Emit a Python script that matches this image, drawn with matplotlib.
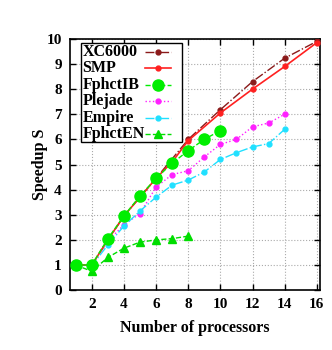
import matplotlib
matplotlib.use("Agg")
import matplotlib.pyplot as plt
from matplotlib.patches import Rectangle

plt.rcParams['font.family'] = ['Liberation Serif', 'DejaVu Serif']
plt.rcParams['font.weight'] = 'bold'

# данные
xc_x = [1, 2, 4, 6, 8, 10, 12, 14, 16]
xc_y = [1.0, 1.0, 2.95, 4.45, 6.0, 7.18, 8.3, 9.23, 9.9]

smp_x = [1, 2, 3, 4, 5, 6, 7, 8, 10, 12, 14, 16]
smp_y = [1.0, 1.0, 2.0, 2.95, 3.7, 4.45, 5.1, 5.95, 7.05, 8.0, 8.9, 9.85]

ib_x = [1, 2, 3, 4, 5, 6, 7, 8, 9, 10]
ib_y = [1.0, 1.0, 2.05, 2.95, 3.75, 4.45, 5.05, 5.55, 6.0, 6.35]

plej_x = [1, 2, 3, 4, 5, 6, 7, 8, 9, 10, 11, 12, 13, 14]
plej_y = [1.0, 1.0, 1.95, 2.6, 3.05, 4.1, 4.6, 4.75, 5.3, 5.8, 6.0, 6.5, 6.65, 7.0]

emp_x = [1, 2, 3, 4, 5, 6, 7, 8, 9, 10, 11, 12, 13, 14]
emp_y = [1.0, 0.97, 1.8, 2.55, 3.15, 3.7, 4.18, 4.38, 4.7, 5.2, 5.47, 5.7, 5.83, 6.4]

en_x = [1, 2, 3, 4, 5, 6, 7, 8]
en_y = [1.0, 0.75, 1.3, 1.67, 1.91, 2.0, 2.05, 2.15]

labels = ['XC6000', 'SMP', 'FphctIB', 'Plejade', 'Empire', 'FphctEN']

styles = [
    dict(color='#8b1a1a', linestyle='-.', linewidth=1, marker='o', markersize=3.5),
    dict(color='#ff2020', linestyle='-', linewidth=1.2, marker='o', markersize=3.5),
    dict(color='#00ee00', linestyle='--', linewidth=1, marker='o', markersize=8),
    dict(color='#ff20ff', linestyle=':', linewidth=1, marker='o', markersize=3.5),
    dict(color='#20e0ff', linestyle='-.', linewidth=1, marker='o', markersize=3.5),
    dict(color='#00dd00', linestyle='--', linewidth=1, marker='^', markersize=6),
]
zorders = [3, 4, 5, 3, 3, 4]
series = [(xc_x, xc_y), (smp_x, smp_y), (ib_x, ib_y),
          (plej_x, plej_y), (emp_x, emp_y), (en_x, en_y)]

fig = plt.figure(figsize=(3.32, 3.5), dpi=100)
ax = fig.add_axes([0.211, 0.171, 0.753, 0.718])

for (xs, ys), st, z in zip(series, styles, zorders):
    ax.plot(xs, ys, zorder=z, **st)

ax.set_xlim(0.65, 16.2)
ax.set_ylim(0, 10)
ax.set_xticks(range(2, 17, 2))
ax.set_yticks(range(0, 11))
ax.tick_params(direction='in', top=True, right=True, length=4, width=1, pad=6, labelsize=11)
ax.grid(True, linestyle=':', color='#aaaaaa', linewidth=0.8)
for s in ax.spines.values():
    s.set_linewidth(1.2)

ax.set_xlabel('Number of processors', fontsize=11.5, fontweight='bold', labelpad=6)
ax.set_ylabel('Speedup S', fontsize=11.5, fontweight='bold', labelpad=-1)

# легенда вручную: текст слева, образец линии справа (как в gnuplot)
ax.add_patch(Rectangle((0.044, 0.59), 0.404, 0.394, transform=ax.transAxes,
                       facecolor='white', edgecolor='black', linewidth=1, zorder=6))
for i, (lab, st) in enumerate(zip(labels, styles)):
    yy = 0.984 - (9 + 16.4 * i) / 251
    ax.text(0.05, yy, lab, transform=ax.transAxes, fontsize=11.5, fontweight='bold',
            va='center', ha='left', zorder=7)
    ax.plot([0.30, 0.404], [yy, yy], transform=ax.transAxes, zorder=7, clip_on=False,
            color=st['color'], linestyle=st['linestyle'], linewidth=st['linewidth'])
    ax.plot([0.352], [yy], transform=ax.transAxes, zorder=7, clip_on=False,
            color=st['color'], marker=st['marker'], markersize=st['markersize'], linestyle='none')

fig.savefig('out.png', dpi=100)
